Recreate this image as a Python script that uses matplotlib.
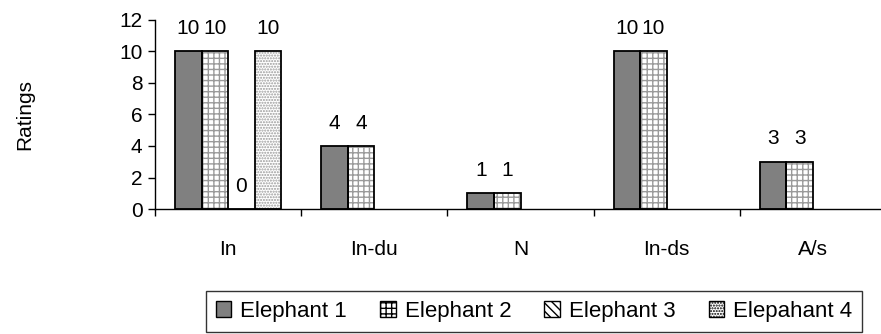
import numpy as np
import matplotlib
matplotlib.use('Agg')
import matplotlib.pyplot as plt
from matplotlib.patches import Patch

plt.rcParams['font.family'] = ['Liberation Sans', 'DejaVu Sans']

# Data
categories = ['In', 'In-du', 'N', 'In-ds', 'A/s']
series_names = ['Elephant 1', 'Elephant 2', 'Elephant 3', 'Elepahant 4']
elephant_1 = [10, 4, 1, 10, 3]
elephant_2 = [10, 4, 1, 10, 3]
elephant_3 = [0, None, None, None, None]
elephant_4 = [10, None, None, None, None]
series = [elephant_1, elephant_2, elephant_3, elephant_4]

styles = [
    dict(face='#808080', hatch=None),
    dict(face='white', hatch='+++'),
    dict(face='white', hatch='\\\\\\\\'),
    dict(face='white', hatch='......'),
]

FS = 15

fig = plt.figure(figsize=(8.81, 3.34), dpi=100)
ax = fig.add_axes([155 / 881, 0.374, 731 / 881, 0.567])

x = np.arange(len(categories))
bar_w = 26.5 / 146
offsets = (np.arange(4) - 1.5) * bar_w

for vals, off, st in zip(series, offsets, styles):
    for xi, v in zip(x, vals):
        if v is None:
            continue
        # hatch layer
        ax.bar(xi + off, v, bar_w, color=st['face'], edgecolor='#9a9a9a',
               hatch=st['hatch'], linewidth=0, zorder=2)
        # outline
        ax.bar(xi + off, v, bar_w, fill=False, edgecolor='black',
               linewidth=1.3, zorder=3)
        ax.annotate(str(v), (xi + off, v), xytext=(0, 16.5), textcoords='offset points',
                    ha='center', va='center', fontsize=FS)

ax.set_xlim(-0.5, len(categories) - 0.5)
ax.set_ylim(0, 12)
ax.set_yticks(range(0, 13, 2))
ax.tick_params(axis='y', labelsize=FS, length=5, width=1, direction='out', pad=4)

# category ticks at group boundaries
ax.set_xticks(np.arange(len(categories) + 1) - 0.5)
ax.set_xticklabels([])
ax.set_xticks(x, minor=True)
ax.set_xticklabels(categories, minor=True, fontsize=FS)
ax.tick_params(axis='x', which='major', length=5, width=1, direction='out')
ax.tick_params(axis='x', which='minor', length=0, pad=22)

for s in ['top', 'right']:
    ax.spines[s].set_visible(False)
for s in ['left', 'bottom']:
    ax.spines[s].set_linewidth(1)

fig.text(25 / 881, 1 - 115 / 334, 'Ratings', rotation=90, ha='center', va='center', fontsize=FS)

handles = []
for name, st in zip(series_names, styles):
    handles.append(Patch(facecolor=st['face'], edgecolor='black', hatch=st['hatch'],
                         linewidth=1, label=name))
leg = fig.legend(handles=handles, loc='center', ncol=4,
                 bbox_to_anchor=(534 / 881, 1 - 311 / 334), fontsize=16,
                 frameon=True, fancybox=False, edgecolor='black',
                 handlelength=0.7, handleheight=0.7, handletextpad=0.4,
                 columnspacing=1.5, borderpad=0.45)
leg.get_frame().set_linewidth(1)

fig.savefig('out.png', dpi=100)
